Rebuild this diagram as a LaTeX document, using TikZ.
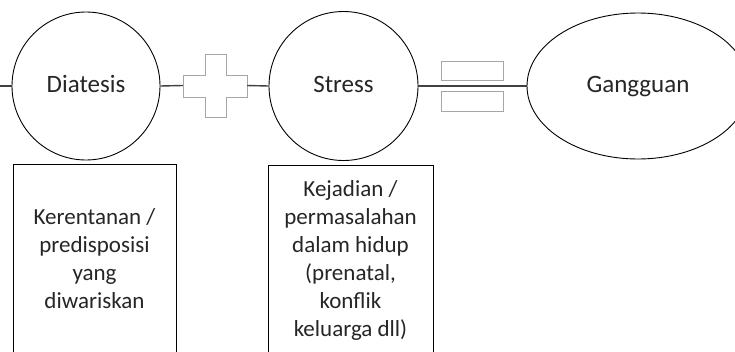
\documentclass[tikz,border=0pt]{standalone}
\usepackage{fontspec}
\setmainfont{Carlito}
\usetikzlibrary{shapes.geometric}
\definecolor{conncol}{HTML}{404040}
\definecolor{symcol}{HTML}{A6A6A6}
\definecolor{txtcol}{HTML}{262626}
\begin{document}
\begin{tikzpicture}[x=1pt,y=-1pt,
  bigcircle/.style={circle,draw=black,line width=0.9pt,minimum size=148pt,inner sep=0pt,
    text height=17pt,text depth=5pt,font=\fontsize{25}{30}\selectfont,text=txtcol},
  bigellipse/.style={ellipse,draw=black,line width=0.9pt,minimum width=222pt,minimum height=146pt,inner sep=0pt,
    text height=17pt,text depth=5pt,font=\fontsize{25}{30}\selectfont,text=txtcol},
  infobox/.style={rectangle,draw=black,line width=0.9pt,minimum width=163pt,minimum height=240pt,inner sep=0pt},
  infotext/.style={align=center,inner sep=0pt,anchor=north,font=\fontsize{23}{28}\selectfont,text=txtcol},
  conn/.style={draw=conncol,line width=1.4pt},
  symshape/.style={draw=symcol,fill=white,line width=0.8pt},
  symbar/.style={rectangle,draw=symcol,fill=white,line width=0.8pt,minimum width=62pt,inner sep=0pt}]
\useasboundingbox (0,0) rectangle (735,351);
\clip (0,0) rectangle (735,351);
\fill[white] (0,0) rectangle (735,351);

% main shapes
\node[bigcircle] (D) at (86,86) {Diatesis};
\node[bigcircle,minimum size=149pt] (S) at (343.5,86) {Stress};
\node[bigellipse] (G) at (638,86) {Gangguan};

% plus symbol
\node[inner sep=0pt,minimum width=64pt,minimum height=63pt] (P) at (215,85.5) {};
\draw[symshape] (183,75)--(205,75)--(205,54)--(226,54)--(226,75)--(247,75)--(247,97)
  --(226,97)--(226,117)--(205,117)--(205,97)--(183,97)--cycle;

% equals symbol
\node[symbar,minimum height=19pt] (E1) at (472,70.5) {};
\node[symbar,minimum height=20pt] (E2) at (472,101) {};

% connectors
\coordinate (L) at (0,86);
\draw[conn] (L) -- (D.west);
\draw[conn] (D.east) -- (P.west);
\draw[conn] (P.east) -- (S.west);
\draw[conn] (S.east) -- (G.west);

% boxes
\node[infobox] (B1) at (94.5,284) {};
\node[infobox,minimum width=165pt] (B2) at (350.5,285) {};
\node[infotext] (T1) at (B1.north |- 0,208) {Kerentanan /\\predisposisi\\yang\\diwariskan};
\node[infotext] (T2) at (B2.north |- 0,180) {Kejadian /\\permasalahan\\dalam hidup\\(prenatal,\\konflik\\keluarga dll)};
\end{tikzpicture}
\end{document}
